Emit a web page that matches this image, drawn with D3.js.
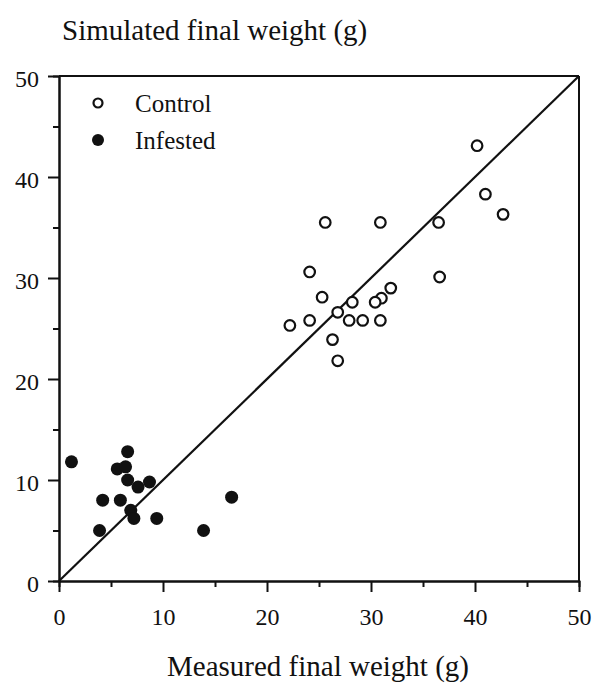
<!DOCTYPE html>
<html>
<head>
<meta charset="utf-8">
<script src="https://cdn.jsdelivr.net/npm/d3@7"></script>
<style>
body { margin: 0; background: #fff; }
text { font-family: "Liberation Serif", "Times New Roman", serif; fill: #111; }
</style>
</head>
<body>
<script>
// measured (x) vs simulated (y) final weight
var controlX = [40.2, 41.0, 42.7, 36.5, 30.9, 25.6, 24.1, 36.6, 31.9, 31.0, 30.4,
                28.2, 25.3, 26.8, 22.2, 24.1, 27.9, 29.2, 30.9, 26.3, 26.8];
var controlY = [43.1, 38.3, 36.3, 35.5, 35.5, 35.5, 30.6, 30.1, 29.0, 28.0, 27.6,
                27.6, 28.1, 26.6, 25.3, 25.8, 25.8, 25.8, 25.8, 23.9, 21.8];

var infestedX = [1.2, 6.6, 5.6, 6.4, 6.6, 7.6, 8.7, 4.2, 5.9, 6.9, 7.2, 9.4, 3.9, 13.9, 16.6];
var infestedY = [11.8, 12.8, 11.1, 11.3, 10.0, 9.3, 9.8, 8.0, 8.0, 7.0, 6.2, 6.2, 5.0, 5.0, 8.3];

var majorTicks = [0, 10, 20, 30, 40, 50];
var minorTicks = [5, 15, 25, 35, 45];
var seriesNames = ["Control", "Infested"];

var width = 595, height = 689;
var plotLeft = 59, plotRight = 579, plotTop = 76, plotBottom = 581;

var svg = d3.select("body").append("svg")
    .attr("width", width)
    .attr("height", height);

var x = d3.scaleLinear().domain([0, 50]).range([plotLeft, plotRight]);
var y = d3.scaleLinear().domain([0, 50]).range([plotBottom, plotTop]);

// frame (top + right)
svg.append("line")
    .attr("x1", x(0)).attr("y1", y(50)).attr("x2", x(50)).attr("y2", y(50))
    .attr("stroke", "#111").attr("stroke-width", 2);
svg.append("line")
    .attr("x1", x(50)).attr("y1", y(50)).attr("x2", x(50)).attr("y2", y(0))
    .attr("stroke", "#111").attr("stroke-width", 2);

// axes
var xMinor = svg.append("g")
    .attr("transform", "translate(0," + plotBottom + ")")
    .call(d3.axisBottom(x).tickValues(minorTicks).tickSize(6).tickFormat(""));
var xMajor = svg.append("g")
    .attr("transform", "translate(0," + plotBottom + ")")
    .call(d3.axisBottom(x).tickValues(majorTicks).tickSize(11).tickPadding(16).tickSizeOuter(0));
var yMinor = svg.append("g")
    .attr("transform", "translate(" + plotLeft + ",0)")
    .call(d3.axisLeft(y).tickValues(minorTicks).tickSize(6).tickFormat(""));
var yMajor = svg.append("g")
    .attr("transform", "translate(" + plotLeft + ",0)")
    .call(d3.axisLeft(y).tickValues(majorTicks).tickSize(11).tickPadding(9).tickSizeOuter(0));

svg.selectAll(".domain").attr("stroke", "#111").attr("stroke-width", 2);
svg.selectAll(".tick line").attr("stroke", "#111").attr("stroke-width", 2);
svg.selectAll(".tick text")
    .attr("font-family", "Liberation Serif, serif")
    .attr("font-size", 24)
    .attr("fill", "#111");
yMajor.selectAll(".tick text").attr("dy", "0.45em");

// 1:1 line
svg.append("line")
    .attr("x1", x(0)).attr("y1", y(0)).attr("x2", x(50)).attr("y2", y(50))
    .attr("stroke", "#111").attr("stroke-width", 2.2);

// points
svg.selectAll(".control")
    .data(controlX).enter()
    .append("circle")
    .attr("class", "control")
    .attr("cx", function(d) { return x(d); })
    .attr("cy", function(d, i) { return y(controlY[i]); })
    .attr("r", 5.3)
    .attr("fill", "#fff")
    .attr("stroke", "#111")
    .attr("stroke-width", 2.2);

svg.selectAll(".infested")
    .data(infestedX).enter()
    .append("circle")
    .attr("class", "infested")
    .attr("cx", function(d) { return x(d); })
    .attr("cy", function(d, i) { return y(infestedY[i]); })
    .attr("r", 6.5)
    .attr("fill", "#111");

// legend
var legend = svg.selectAll(".legend")
    .data(seriesNames).enter()
    .append("g")
    .attr("transform", function(d, i) { return "translate(98," + (103 + i * 37) + ")"; });
legend.append("circle")
    .attr("r", function(d, i) { return i == 0 ? 4.5 : 6; })
    .attr("fill", function(d, i) { return i == 0 ? "#fff" : "#111"; })
    .attr("stroke", "#111")
    .attr("stroke-width", function(d, i) { return i == 0 ? 2.2 : 0; });
legend.append("text")
    .attr("x", 37)
    .attr("y", 9)
    .attr("font-size", 25)
    .text(function(d) { return d; });

// axis titles
svg.append("text")
    .attr("x", 62)
    .attr("y", 40)
    .attr("font-size", 29)
    .text("Simulated final weight (g)");
svg.append("text")
    .attr("x", (plotLeft + plotRight) / 2 - 1)
    .attr("y", 676)
    .attr("text-anchor", "middle")
    .attr("font-size", 29)
    .text("Measured final weight (g)");
</script>
</body>
</html>
